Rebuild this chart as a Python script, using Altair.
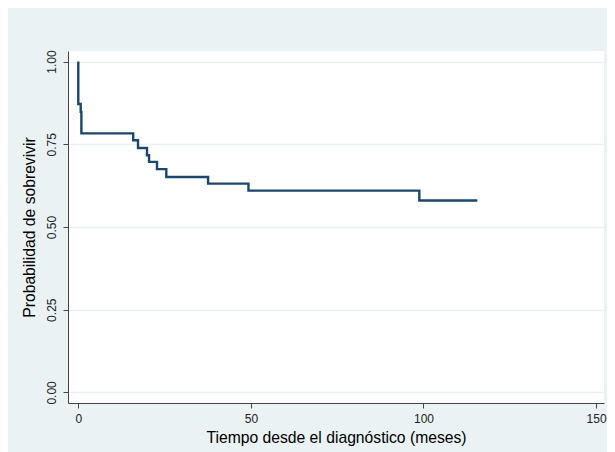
import altair as alt
import pandas as pd

# Kaplan-Meier step curve
time_months = [0.0, 0.0, 0.7, 0.9, 15.9, 17.3, 19.9, 20.5, 22.8, 25.5, 37.6, 49.3, 98.8, 115.6]
survival = [1.000, 0.872, 0.848, 0.783, 0.762, 0.739, 0.717, 0.697, 0.675, 0.651, 0.631, 0.610, 0.580, 0.580]

y_ticks = [0, 0.25, 0.5, 0.75, 1.0]
x_ticks = [0, 50, 100, 150]

df = pd.DataFrame({"t": time_months, "s": survival, "order": list(range(len(time_months)))})

BG = "#EAF2F3"
LINE = "#1A476F"
FONT = "Liberation Sans"

chart = alt.Chart(df).mark_line(
    interpolate="step-after", color=LINE, strokeWidth=2.4, clip=True
).encode(
    x=alt.X("t:Q", scale=alt.Scale(domain=[-2.98, 152.3], nice=False, zero=False),
            axis=alt.Axis(values=x_ticks, title="Tiempo desde el diagnóstico (meses)",
                          grid=False, tickSize=5, labelPadding=5, titlePadding=6)),
    y=alt.Y("s:Q", scale=alt.Scale(domain=[-0.032, 1.032], nice=False, zero=False),
            axis=alt.Axis(values=y_ticks, format=".2f", title="Probabilidad de sobrevivir",
                          labelAngle=-90, grid=True, gridColor=BG, gridWidth=1.5,
                          tickSize=5, labelPadding=5, titlePadding=8)),
    order="order:Q",
).properties(
    width=536, height=352,
    background=BG,
    padding={"left": 60, "top": 43, "right": 3, "bottom": 49},
    autosize=alt.AutoSizeParams(type="none"),
).configure_view(
    fill="white", stroke=None
).configure_axis(
    domainColor="#444444", domainWidth=1, tickColor="#444444",
    labelFont=FONT, titleFont=FONT, labelFontSize=12, titleFontSize=15.7,
    labelColor="#222222", titleColor="#000000", titleFontWeight="normal",
)

chart.save("out.html", embed_options={"renderer": "svg", "actions": False})
